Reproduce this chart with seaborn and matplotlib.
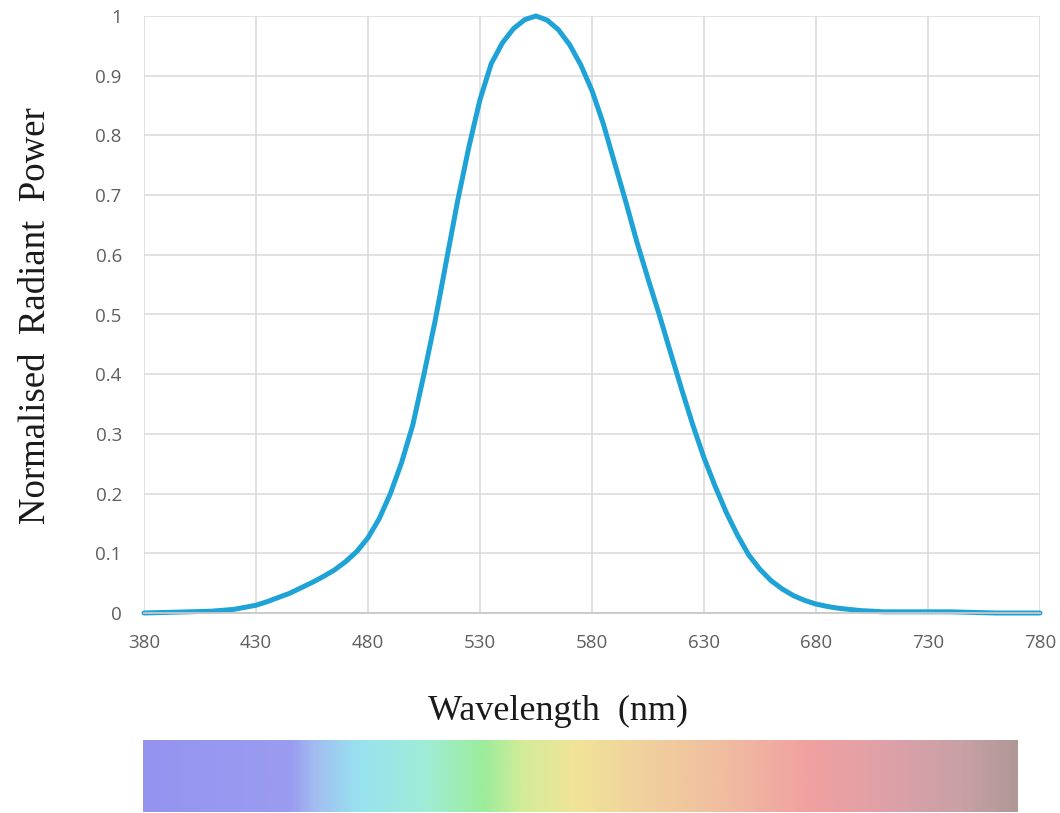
import numpy as np
import pandas as pd
import matplotlib
matplotlib.use("Agg")
import matplotlib.pyplot as plt
from matplotlib.colors import LinearSegmentedColormap
import seaborn as sns

# ---- data ----
wavelength = [380, 390, 400, 410, 420, 430, 435, 440, 445, 450, 455, 460, 465, 470, 475,
              480, 485, 490, 495, 500, 505, 510, 515, 520, 525, 530, 535, 540, 545, 550,
              555, 560, 565, 570, 575, 580, 585, 590, 595, 600, 605, 610, 615, 620, 625,
              630, 635, 640, 645, 650, 655, 660, 665, 670, 675, 680, 685, 690, 700, 710,
              720, 730, 740, 750, 760, 770, 780]
power = [0.0, 0.001, 0.002, 0.003, 0.006, 0.013, 0.019, 0.026, 0.033, 0.042, 0.051, 0.061,
         0.072, 0.086, 0.103, 0.126, 0.158, 0.2, 0.252, 0.315, 0.40, 0.49, 0.59, 0.69,
         0.78, 0.86, 0.92, 0.955, 0.979, 0.994, 1.0, 0.993, 0.977, 0.952, 0.918, 0.875,
         0.82, 0.755, 0.69, 0.622, 0.56, 0.5, 0.437, 0.375, 0.315, 0.26, 0.212, 0.168,
         0.13, 0.097, 0.073, 0.054, 0.04, 0.029, 0.021, 0.015, 0.011, 0.008, 0.004, 0.002,
         0.002, 0.002, 0.002, 0.001, 0.0, 0.0, 0.0]

x_ticks = [380, 430, 480, 530, 580, 630, 680, 730, 780]
y_ticks = [0, 0.1, 0.2, 0.3, 0.4, 0.5, 0.6, 0.7, 0.8, 0.9, 1]
y_tick_labels = ["0", "0.1", "0.2", "0.3", "0.4", "0.5", "0.6", "0.7", "0.8", "0.9", "1"]

# spectrum bar colour stops (position along bar, colour)
spectrum_pos = [0.0, 0.168, 0.195, 0.245, 0.32, 0.389, 0.435, 0.492, 0.557, 0.652,
                0.709, 0.767, 0.863, 0.938, 1.0]
spectrum_col = ["#9494f0", "#9a9cf0", "#a2bdf0", "#98e2f0", "#a0ecd8", "#9cec9c",
                "#d4ec98", "#f0e498", "#f0d49c", "#f0c0a0", "#f0b0a2", "#f0a0a0",
                "#dca0a8", "#c8a0a6", "#b09898"]

df = pd.DataFrame({"wavelength": wavelength, "power": power})

sns.set_theme(style="whitegrid")
plt.rcParams["font.family"] = ["Open Sans", "DejaVu Sans"]

W, H = 1060, 813
fig = plt.figure(figsize=(W / 100, H / 100), dpi=100)
fig.patch.set_facecolor("white")

ax = fig.add_axes([144 / W, 1 - 613 / H, (1040 - 144) / W, (613 - 16) / H])
sns.lineplot(data=df, x="wavelength", y="power", ax=ax, color="#1fa3d6",
             linewidth=3.6, clip_on=False, solid_joinstyle="round",
             solid_capstyle="round")
ax.set_xlim(380, 780)
ax.set_ylim(0, 1)
ax.set_xticks(x_ticks)
ax.set_xticklabels([str(t) for t in x_ticks])
ax.set_yticks(y_ticks)
ax.set_yticklabels(y_tick_labels)
ax.grid(True, color="#d9d9d9", linewidth=1.1)
ax.set_axisbelow(True)
for s in ["left", "right", "top"]:
    ax.spines[s].set_visible(False)
ax.spines["bottom"].set_color("#c8c8c8")
ax.spines["bottom"].set_linewidth(1.3)
ax.tick_params(axis="both", length=0, labelsize=13.5, labelcolor="#5f5f5f")
ax.tick_params(axis="y", pad=16)
ax.tick_params(axis="x", pad=15)
ax.set_xlabel("")
ax.set_ylabel("")
ax.set_facecolor("white")

serif = ["Liberation Serif", "DejaVu Serif"]
fig.text(558 / W, 1 - 720 / H, "Wavelength  (nm)", family=serif, fontsize=26,
         ha="center", va="baseline", color="#1a1a1a")
fig.text(45 / W, 1 - 316 / H, "Normalised  Radiant  Power", family=serif, fontsize=26.5,
         rotation=90, rotation_mode="anchor", ha="center", va="baseline", color="#1a1a1a")

# spectrum bar
cmap = LinearSegmentedColormap.from_list("spec", list(zip(spectrum_pos, spectrum_col)))
bax = fig.add_axes([143 / W, 1 - 812 / H, (1017 - 143) / W, (812 - 740) / H])
bax.imshow(np.linspace(0, 1, 600)[None, :], aspect="auto", cmap=cmap,
           extent=[0, 1, 0, 1])
bax.set_axis_off()

fig.savefig("out.png", dpi=100, facecolor="white")
